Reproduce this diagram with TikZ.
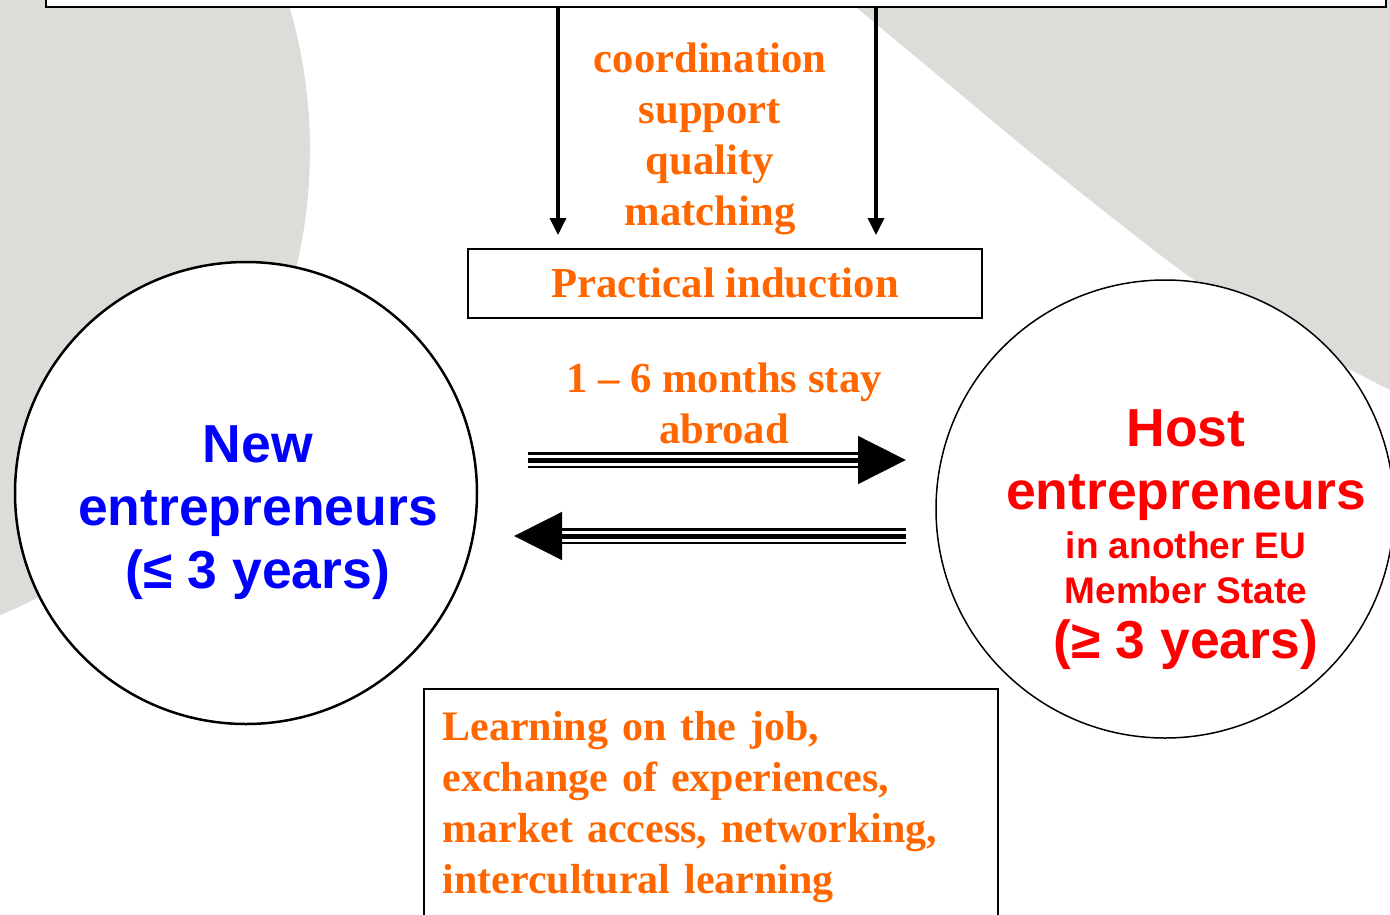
\documentclass[tikz,border=0pt]{standalone}
\usepackage{fontspec}
\setmainfont{Liberation Serif}
\setsansfont{Liberation Sans}
\usetikzlibrary{arrows.meta,positioning}
\definecolor{eyeorange}{RGB}{255,102,0}
\definecolor{eyeblue}{RGB}{0,0,255}
\definecolor{eyered}{RGB}{255,0,0}
\definecolor{eyegray}{RGB}{220,221,216}
\tikzset{
  boxnode/.style={rectangle, draw=black, fill=white, line width=2pt, inner sep=0pt},
  entcircle/.style={circle, draw=black, fill=white, inner sep=0pt},
  orangetext/.style={text=eyeorange, font=\bfseries\fontsize{42.7}{51}\selectfont, align=center, inner sep=0pt},
  bigsans/.style={font=\sffamily\bfseries\fontsize{53.5}{63}\selectfont, align=center, inner sep=0pt, anchor=base},
  smallsans/.style={font=\sffamily\bfseries\fontsize{37}{45}\selectfont, align=center, inner sep=0pt, anchor=base},
  feedarrow/.style={draw=black, line width=3.5pt, -{Triangle[length=17pt,width=16pt]}},
  stayline/.style={draw=black, double=white, double distance=11pt, line width=2.5pt},
  stayhead/.style={draw=black, line width=5pt, -{Triangle[length=48pt,width=47pt]}}
}
\begin{document}
\begin{tikzpicture}[x=1pt, y=-1pt]
    \useasboundingbox (0,0) rectangle (1390,914);
    % background shapes
    \fill[eyegray] (-194,150) circle[radius=504];
    \fill[eyegray] plot[smooth] coordinates {(845,-2) (940,77) (1040,160) (1190,277) (1300,343) (1394,392)} -- (1394,-2) -- cycle;

    \node[boxnode, minimum width=1340pt, minimum height=80pt, anchor=south west] (topbox) at (45,8) {};
    % base anchor sits on the last line
    \node[orangetext, anchor=base] (tasks) at (710,225) {coordination\\support\\quality\\matching};
    \node[boxnode, orangetext, minimum width=514pt, minimum height=69pt] (induct) at (725,283) {Practical induction};

    \coordinate (leftin) at (558,235);
    \coordinate (rightin) at (876,235);
    \draw[feedarrow] (topbox.south -| leftin) -- (leftin);
    \draw[feedarrow] (topbox.south -| rightin) -- (rightin);

    % entrepreneurs
    \node[entcircle, line width=2.5pt, minimum size=462pt] (newent) at (246,493) {};
    \node[entcircle, line width=1.5pt, minimum size=458pt] (hostent) at (1165,509) {};
    \node[bigsans, text=eyeblue] (newlbl) at (258,588) {New\\entrepreneurs\\(≤ 3 years)};
    \node[bigsans, text=eyered] (hostlbl) at (1186,509) {Host\\entrepreneurs};
    \node[smallsans, text=eyered] (hostsub) at (1186,603) {in another EU\\Member State};
    \node[bigsans, text=eyered] (hostyrs) at (1186,658) {(≥ 3 years)};

    % stay abroad
    \node[orangetext, anchor=base] (stay) at (724,443) {1 – 6 months stay\\abroad};
    \coordinate (goTail) at (528,460);
    \coordinate (goBase) at (858,460);
    \coordinate (goTip) at (906,460);
    \coordinate (backTail) at (906,536);
    \coordinate (backBase) at (561,536);
    \coordinate (backTip) at (514,536);
    \draw[stayline] (goTail) -- (goBase);
    \draw[stayhead] (goTail) -- (goTip);
    \draw[stayline] (backTail) -- (backBase);
    \draw[stayhead] (backTail) -- (backTip);

    \node[boxnode, anchor=north west, text width=537pt, inner xsep=18.5pt, inner ysep=22.6pt, align=left, text=eyeorange, font=\bfseries\fontsize{42}{51}\selectfont] (jobbox) at (423,688) {Learning on the job,\\exchange of experiences,\\market access, networking,\\intercultural learning};
\end{tikzpicture}
\end{document}
